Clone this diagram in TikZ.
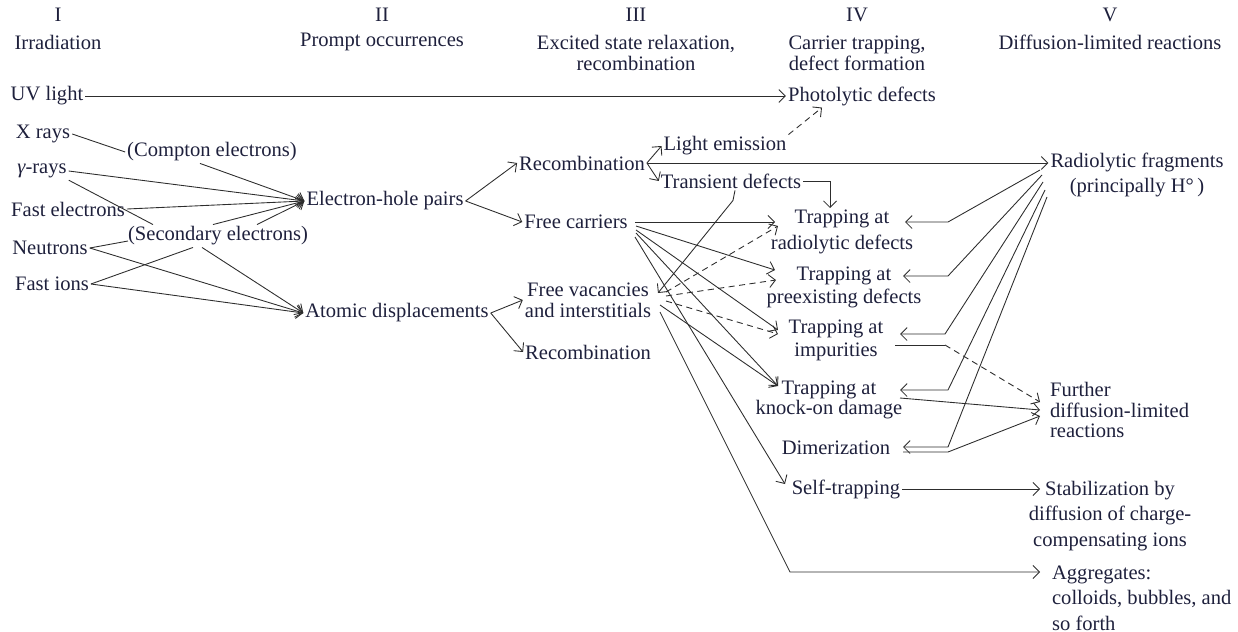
\documentclass[tikz,border=0pt]{standalone}
\usepackage{tikz}
\usepackage{amsmath}
\usepackage{fontspec}
\setmainfont{Liberation Serif}
\usetikzlibrary{arrows.meta, positioning, calc}
\definecolor{txtnavy}{RGB}{30,32,60}
\definecolor{linegray}{RGB}{45,45,45}

\begin{document}
\begin{tikzpicture}[
        x=0.02cm, y=-0.02cm,
        lbl/.style={inner sep=1pt, align=center, text=txtnavy, font=\fontsize{11.7}{13}\selectfont},
        tightlbl/.style={lbl, font=\fontsize{11.7}{11.8}\selectfont},
        widelbl/.style={lbl, font=\fontsize{11.7}{14.5}\selectfont},
        link/.style={line width=0.5pt, draw=linegray},
        arrow/.style={link, -{Straight Barb[length=1.3mm, width=2.6mm]}},
        dasharrow/.style={arrow, dash pattern=on 3.5pt off 2.5pt},
        dashlink/.style={link, dash pattern=on 3.5pt off 2.5pt}
    ]
        \useasboundingbox (0,0) rectangle (1238,632);

        % Stage headings
        \node[lbl] (n1) at (58,15) {I};
        \node[lbl] (t1) at (58,42) {Irradiation};
        \node[lbl] (n2) at (382,15) {II};
        \node[lbl] (t2) at (382,42) {Prompt occurrences};
        \node[lbl] (n3) at (636,15) {III};
        \node[tightlbl] (t3) at (636,53) {Excited state relaxation,\\recombination};
        \node[lbl] (n4) at (857,15) {IV};
        \node[tightlbl] (t4) at (857,53) {Carrier trapping,\\defect formation};
        \node[lbl] (n5) at (1110,15) {V};
        \node[lbl] (t5) at (1110,42) {Diffusion-limited reactions};

        % Column I: irradiation
        \node[lbl] (uv) at (47,96) {UV light};
        \node[lbl] (xr) at (43,134) {X rays};
        \node[lbl] (gam) at (42,171) {{\itshape γ}-rays};
        \node[lbl] (fe) at (68,209) {Fast electrons};
        \node[lbl] (neu) at (50,248) {Neutrons};
        \node[lbl] (fi) at (52,284) {Fast ions};
        \node[lbl] (comp) at (212,152) {(Compton electrons)};
        \node[lbl] (sec) at (218,236) {(Secondary electrons)};

        % Column II: prompt occurrences
        \node[lbl] (eh) at (385,201) {Electron-hole pairs};
        \node[lbl] (ad) at (397,313) {Atomic displacements};

        % Column III: relaxation, recombination
        \node[lbl] (rec1) at (582,163) {Recombination};
        \node[lbl] (fc) at (576,222) {Free carriers};
        \node[tightlbl] (fv) at (588,300) {Free vacancies\\and interstitials};
        \node[lbl] (rec2) at (588,352) {Recombination};
        \node[lbl] (le) at (725,146) {Light emission};
        \node[lbl] (td) at (731,181) {Transient defects};

        % Column IV: trapping, defect formation
        \node[lbl] (pd) at (862,96) {Photolytic defects};
        \node[widelbl] (tr1) at (842,232) {Trapping at\\radiolytic defects};
        \node[lbl] (tr2) at (844,287) {Trapping at\\preexisting defects};
        \node[lbl] (tr3) at (836,340) {Trapping at\\impurities};
        \node[tightlbl] (tr4) at (829,400) {Trapping at\\knock-on damage};
        \node[lbl] (dim) at (836,448) {Dimerization};
        \node[lbl] (st) at (846,489) {Self-trapping};

        % Column V: diffusion-limited reactions
        \node[widelbl] (rf) at (1137,175) {Radiolytic fragments\\(principally H°\,)};
        \node[tightlbl, align=left, anchor=west] (fdr) at (1048,410) {Further\\diffusion-limited\\reactions};
        \node[widelbl] (stab) at (1110,516) {Stabilization by\\diffusion of charge-\\compensating ions};
        \node[widelbl, align=left, anchor=west] (agg) at (1050,598) {Aggregates:\\colloids, bubbles, and\\so forth};

        % Irradiation to prompt occurrences
        \draw[arrow] (uv) -- (pd);
        \draw[link] (xr.east) -- (comp.west);
        \draw[arrow] ($(comp.south)+(-12,0)$) -- (eh.west);
        \draw[arrow] (gam.east) -- (eh.west);
        \draw[link] (gam.south east) -- ($(sec.north west)+(27,0)$);
        \draw[arrow] (fe.east) -- (eh.west);
        \draw[arrow] ($(sec.north)+(-5,0)$) -- (eh.west);
        \draw[arrow] ($(sec.north)+(39,0)$) -- (eh.west);
        \draw[link] (neu.east) -- ($(sec.west)+(2,5)$);
        \draw[arrow] (neu.east) -- (ad.west);
        \draw[link] (fi.east) -- ($(sec.south)+(-25,0)$);
        \draw[arrow] (fi.east) -- (ad.west);
        \draw[arrow] ($(sec.south)+(-16,0)$) -- (ad.west);

        % Prompt occurrences to relaxation
        \draw[arrow] (eh.east) -- (rec1.west);
        \draw[arrow] (eh.east) -- (fc.west);
        \draw[arrow] (ad.east) -- (fv.west);
        \draw[arrow] (ad.east) -- (rec2.west);
        \draw[arrow] (rec1.east) -- (le.west);
        \draw[arrow] (rec1.east) -- (td.west);
        \draw[arrow] (rec1.east) -- (rec1.east -| rf.west);
        \draw[dasharrow] (le.north east) -- ($(pd.south)+(-40,0)$);
        \draw[arrow] (td.east) -| ($(tr1)+(-12,-24)$);
        \draw[arrow] ($(td.south)+(4,0)$) -- ++(-2,10) -- ($(fv)+(70,-7)$);

        % Free carriers
        \draw[arrow] ($(fc)+(59,0)$) -- ($(tr1)+(-67,-10)$);
        \draw[arrow] ($(fc)+(60,4)$) -- ($(tr2)+(-69,-17)$);
        \draw[arrow] ($(fc)+(60,8)$) -- ($(tr3)+(-58,-10)$);
        \draw[arrow] ($(fc)+(60,11)$) -- ($(tr4)+(-51,-14)$);
        \draw[arrow] ($(fc)+(59,15)$) -- ($(st)+(-61,-5)$);

        % Free vacancies and interstitials
        \draw[dasharrow] ($(fv)+(78,-8)$) -- ($(tr1)+(-64,-6)$);
        \draw[dasharrow] ($(fv)+(78,-4)$) -- ($(tr2)+(-68,-7)$);
        \draw[dasharrow] ($(fv)+(78,1)$) -- ($(tr3)+(-58,-6)$);
        \draw[arrow] ($(fv)+(72,5)$) -- ($(tr4)+(-51,-14)$);
        \draw[arrow] ($(fv)+(72,12)$) -- (790,572) -- ($(agg.west)+(-10,-26)$);

        % Radiolytic fragments back to trapping
        \draw[arrow] ($(rf)+(-97,-5)$) -- ($(tr1)+(106,-10)$) -- ($(tr1)+(63,-10)$);
        \draw[arrow] ($(rf)+(-95,0)$) -- ($(tr2)+(104,-11)$) -- ($(tr2)+(59,-11)$);
        \draw[arrow] ($(rf)+(-94,7)$) -- ($(tr3)+(109,-6)$) -- ($(tr3)+(64,-6)$);
        \draw[arrow] ($(rf)+(-92,15)$) -- ($(tr4)+(119,-10)$) -- ($(tr4)+(71,-10)$);
        \draw[arrow] ($(rf)+(-90,22)$) -- ($(dim)+(112,-1)$) -- ($(dim)+(67,-1)$);

        % Further diffusion-limited reactions
        \coordinate (imp) at ($(tr3)+(109,5)$);
        \draw[link] ($(tr3)+(59,5)$) -- (imp);
        \draw[dasharrow] (imp) -- ($(fdr.west)+(-8,-8)$);
        \draw[arrow] ($(tr4)+(71,-2)$) -- ($(fdr.west)+(-8,0)$);
        \draw[arrow] ($(dim)+(67,4)$) -- ($(dim)+(112,4)$) -- ($(fdr.west)+(-8,6)$);
        \draw[arrow] (st.east) -- ($(stab)+(-70,-27)$);
    \end{tikzpicture}
\end{document}
